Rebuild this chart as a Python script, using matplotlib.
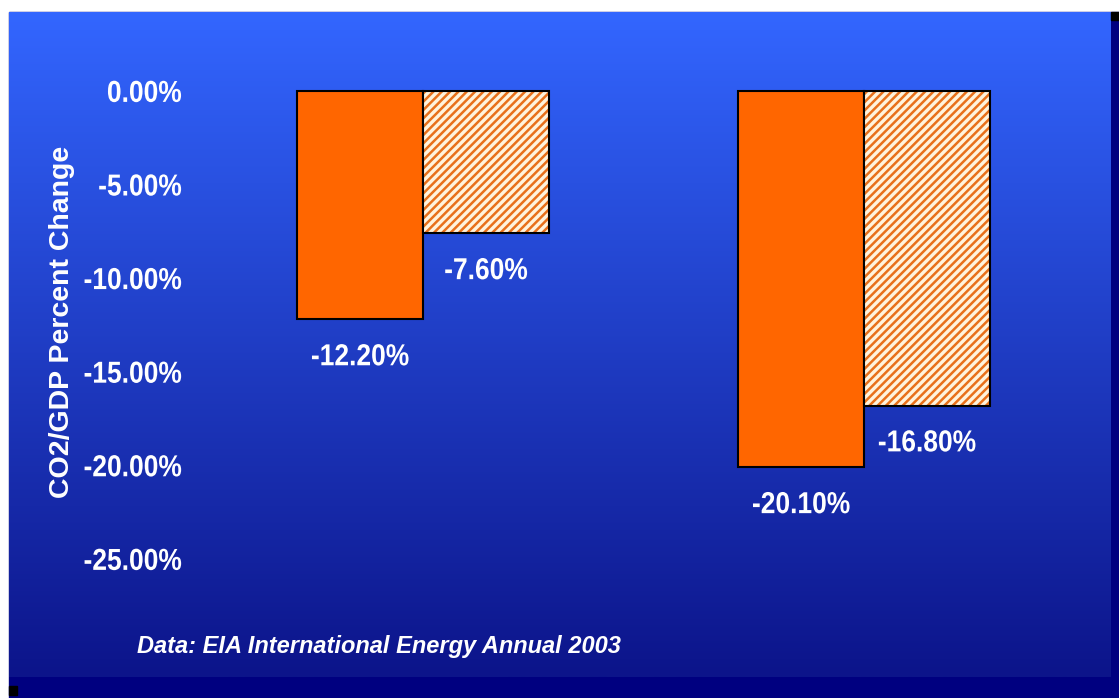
import numpy as np
import matplotlib
matplotlib.use("Agg")
import matplotlib.pyplot as plt
from matplotlib.patches import Rectangle
from matplotlib.patheffects import AbstractPathEffect
from matplotlib.transforms import Affine2D

# data
groups = ["Group 1", "Group 2"]
solid_vals = [-12.2, -20.1]
hatched_vals = [-7.6, -16.8]
yticks = [0, -5, -10, -15, -20, -25]
ytick_labels = ["0.00%", "-5.00%", "-10.00%", "-15.00%", "-20.00%", "-25.00%"]

FONT = "Liberation Sans"
ORANGE = "#FF6600"
CREAM = "#FFF3DC"


class Tall(AbstractPathEffect):
    """Stretch text vertically around its centre (mimics a narrow bold face)."""

    def __init__(self, sy=1.15):
        super().__init__()
        self.sy = sy

    def draw_path(self, renderer, gc, tpath, affine, rgbFace=None):
        ext = tpath.get_extents(affine)
        cy = (ext.y0 + ext.y1) / 2
        tr = affine + Affine2D().translate(0, -cy).scale(1, self.sy).translate(0, cy)
        renderer.draw_path(gc, tpath, tr, rgbFace)


W, H = 1119, 698
fig = plt.figure(figsize=(W / 100, H / 100), dpi=100)
fig.patch.set_facecolor("white")

# background: gradient panel with navy shadow strip
bg = fig.add_axes([0, 0, 1, 1])
bg.axis("off")
bg.add_patch(Rectangle((9, 12), W - 9, H - 12, color="#000080", zorder=0))
top = np.array([51, 102, 255]) / 255
bot = np.array([12, 20, 138]) / 255
t = np.linspace(0, 1, 256)[:, None, None]
grad = top * (1 - t) + bot * t
bg.imshow(grad, extent=(9, 1111, 677, 12), aspect="auto", zorder=1)
bg.add_patch(Rectangle((1111, 12), 8, 8, color="black", zorder=2))
bg.add_patch(Rectangle((9, 686), 8, 9, color="black", zorder=2))
bg.set_xlim(0, W)
bg.set_ylim(H, 0)

# main chart
ax = fig.add_axes([0.1698, 0.1117, 0.8132, 0.8023])
ax.patch.set_alpha(0)
for s in ax.spines.values():
    s.set_visible(False)

x = np.arange(len(groups))
w = 0.2857
ax.bar(x - w / 2, solid_vals, w, color=ORANGE, edgecolor="black", linewidth=1.5, zorder=3)
plt.rcParams["hatch.linewidth"] = 1.8
ax.bar(x + w / 2, hatched_vals, w, color=CREAM, edgecolor="#E8701A", hatch="////",
       linewidth=0, zorder=3)
ax.bar(x + w / 2, hatched_vals, w, fill=False, edgecolor="black", linewidth=1.5, zorder=4)

for xs, vals in ((x - w / 2, solid_vals), (x + w / 2, hatched_vals)):
    for xi, v in zip(xs, vals):
        ax.annotate(f"{v:.2f}%", (xi, v), xytext=(0, -27), textcoords="offset points",
                    ha="center", va="center", color="white", fontsize=19,
                    fontweight="bold", family=FONT, path_effects=[Tall()])

ax.set_xlim(-0.5283, 1.535)
ax.set_ylim(-28.26, 1.656)
ax.set_xticks([])
ax.set_yticks(yticks)
ax.set_yticklabels(ytick_labels, color="white", fontsize=19, fontweight="bold",
                   family=FONT)
for lab in ax.get_yticklabels():
    lab.set_path_effects([Tall()])
ax.tick_params(axis="y", length=0, pad=6)

fig.text(62 / W, 1 - 322 / H, "CO2/GDP Percent Change", rotation=90, color="white",
         fontsize=20.5, fontweight="bold", family=FONT,
         ha="center", va="center")
fig.text(137 / W, 1 - 646 / H, "Data: EIA International Energy Annual 2003",
         color="white", fontsize=17, fontweight="bold", fontstyle="italic",
         family=FONT, ha="left", va="center")

fig.savefig("out.png", dpi=100, facecolor="white")
